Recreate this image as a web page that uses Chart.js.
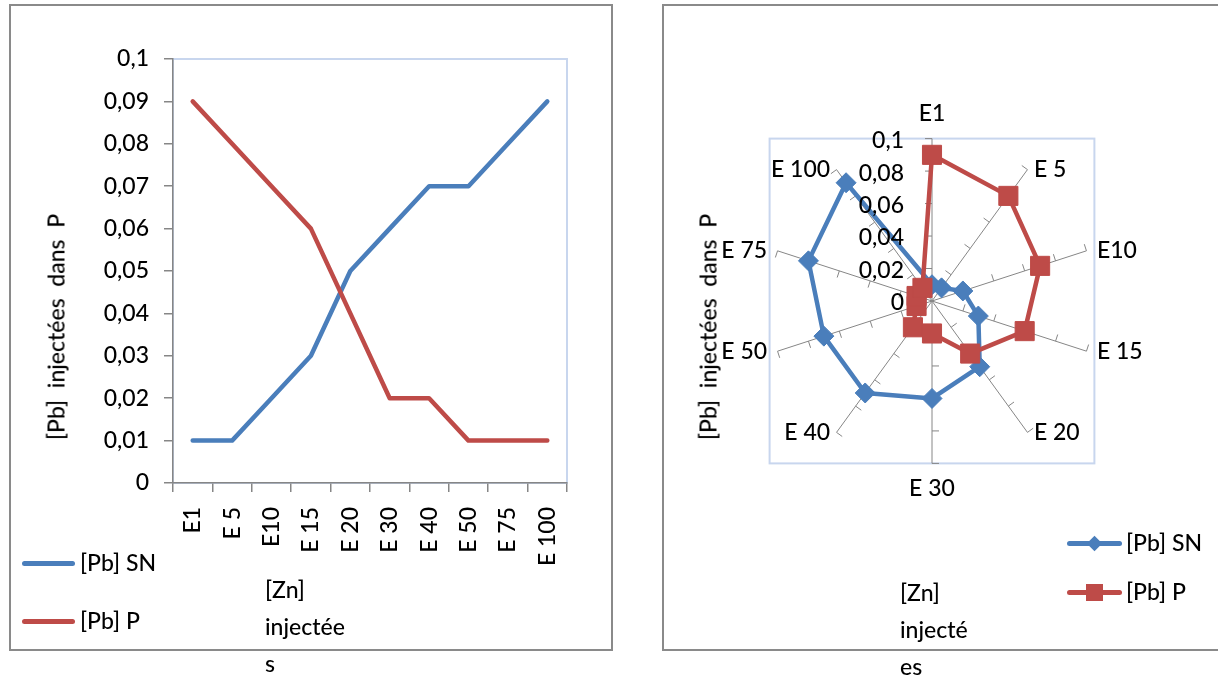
<!DOCTYPE html>
<html><head><meta charset="utf-8">
<script src="https://cdn.jsdelivr.net/npm/chart.js@4.4.0/dist/chart.umd.min.js"></script>
<style>
html,body{margin:0;padding:0;background:#fff;width:1218px;height:676px;overflow:hidden;font-family:Lato,sans-serif;}
.frame{position:absolute;border:2px solid #8a8a8a;box-sizing:border-box;}
canvas{position:absolute;}
.txt{position:absolute;font-size:23px;font-weight:500;color:#000;white-space:pre;line-height:23px;}
.ytitle{transform:translate(-50%,-50%) rotate(-90deg);}
.xtitle{line-height:37px;}
.lg-line{position:absolute;height:5px;border-radius:3px;}
.mk{position:absolute;}
</style></head>
<body>
<div class="frame" style="left:9px;top:4px;width:604px;height:647px"></div>
<div class="frame" style="left:662px;top:4px;width:600px;height:647px"></div>
<canvas id="c1" width="620" height="676" style="left:0;top:0"></canvas>
<canvas id="c2" width="555" height="645" style="left:663px;top:5px"></canvas>

<div class="txt ytitle" style="left:56px;top:327px">[Pb]  injectées  dans  P</div>
<div class="txt xtitle" style="left:265px;top:571px">[Zn]
injectée
s</div>
<div class="lg-line" style="left:22px;top:561px;width:53px;background:#4a7ebb"></div>
<div class="txt" style="left:80px;top:551px">[Pb] SN</div>
<div class="lg-line" style="left:22px;top:619px;width:53px;background:#be4b48"></div>
<div class="txt" style="left:80px;top:609px">[Pb] P</div>

<div class="txt ytitle" style="left:708px;top:327px">[Pb]  injectées  dans  P</div>
<div class="txt xtitle" style="left:900px;top:574px">[Zn]
injecté
es</div>
<div class="lg-line" style="left:1067px;top:541px;width:55px;background:#4a7ebb"></div>
<div class="mk" style="left:1089px;top:538px;width:11px;height:11px;background:#4a7ebb;transform:rotate(45deg)"></div>
<div class="txt" style="left:1126px;top:531px">[Pb] SN</div>
<div class="lg-line" style="left:1067px;top:590px;width:55px;background:#be4b48"></div>
<div class="mk" style="left:1086px;top:584px;width:17px;height:17px;background:#be4b48"></div>
<div class="txt" style="left:1126px;top:580px">[Pb] P</div>

<script>
const categories = ['E1','E 5','E10','E 15','E 20','E 30','E 40','E 50','E 75','E 100'];
const pbSN = [0.01,0.01,0.02,0.03,0.05,0.06,0.07,0.07,0.08,0.09];
const pbP  = [0.09,0.08,0.07,0.06,0.04,0.02,0.02,0.01,0.01,0.01];
const yTickLabels = ['0','0,01','0,02','0,03','0,04','0,05','0,06','0,07','0,08','0,09','0,1'];
const radarTickValues = [0,0.02,0.04,0.06,0.08,0.1];
const radarTickLabels = ['0','0,02','0,04','0,06','0,08','0,1'];

const BLUE = '#4a7ebb', RED = '#be4b48', AXIS = '#868686', BOX = '#c8d6ee';
const FONT_SIZE = 23;
Chart.defaults.font.family = 'Lato';
Chart.defaults.font.size = FONT_SIZE;
Chart.defaults.font.weight = 500;
Chart.defaults.color = '#000';

const plotBox = {
  id: 'plotBox',
  beforeDraw(chart) {
    const a = chart.chartArea, ctx = chart.ctx;
    ctx.save();
    ctx.strokeStyle = BOX; ctx.lineWidth = 2;
    ctx.strokeRect(a.left, a.top, a.right - a.left, a.bottom - a.top);
    ctx.restore();
  }
};

new Chart(document.getElementById('c1'), {
  type: 'line',
  data: {
    labels: categories,
    datasets: [
      {label: '[Pb] SN', data: pbSN, borderColor: BLUE, backgroundColor: BLUE, borderWidth: 4.5,
       pointRadius: 0, tension: 0, borderCapStyle: 'round', borderJoinStyle: 'round', order: 1},
      {label: '[Pb] P', data: pbP, borderColor: RED, backgroundColor: RED, borderWidth: 4.5,
       pointRadius: 0, tension: 0, borderCapStyle: 'round', borderJoinStyle: 'round', order: 0}
    ]
  },
  options: {
    responsive: false, animation: false,
    layout: {padding: {left: 100, top: 59, right: 53, bottom: 100}},
    plugins: {legend: {display: false}, tooltip: {enabled: false}},
    scales: {
      x: {
        type: 'category', offset: true,
        grid: {offset: true, drawOnChartArea: false, drawTicks: true, tickLength: 9, color: AXIS, lineWidth: 1.5},
        border: {display: true, color: AXIS, width: 1.5},
        ticks: {autoSkip: false, maxRotation: 90, minRotation: 90, padding: 15, color: '#000'},
        afterFit(s) { s.height = 93; }
      },
      y: {
        min: 0, max: 0.1,
        grid: {drawOnChartArea: false, drawTicks: true, tickLength: 9, color: AXIS, lineWidth: 1.5},
        border: {display: true, color: AXIS, width: 1.5},
        ticks: {stepSize: 0.01, padding: 15, color: '#000',
                callback: (v) => yTickLabels[Math.round(v * 100)]},
        afterFit(s) { s.width = 73; }
      }
    }
  },
  plugins: [plotBox]
});

const radarDecor = {
  id: 'radarDecor',
  beforeDraw(chart) {
    const s = chart.scales.r, ctx = chart.ctx, R = s.drawingArea;
    ctx.save();
    ctx.strokeStyle = BOX; ctx.lineWidth = 2;
    ctx.strokeRect(s.xCenter - R, s.yCenter - R, 2 * R, 2 * R);
    ctx.restore();
  },
  beforeDatasetsDraw(chart) {
    const s = chart.scales.r, ctx = chart.ctx, R = s.drawingArea;
    ctx.save();
    ctx.strokeStyle = AXIS; ctx.lineWidth = 1;
    for (let i = 0; i < categories.length; i++) {
      const e = s.getPointPosition(i, R);
      const dx = (e.x - s.xCenter) / R, dy = (e.y - s.yCenter) / R;
      radarTickValues.forEach(v => {
        if (v === 0) return;
        const p = s.getPointPositionForValue(i, v);
        ctx.beginPath();
        ctx.moveTo(p.x, p.y);
        ctx.lineTo(p.x + dy * 7, p.y - dx * 7);
        ctx.stroke();
      });
    }
    ctx.restore();
  },
  afterDatasetsDraw(chart) {
    const s = chart.scales.r, ctx = chart.ctx;
    ctx.save();
    ctx.fillStyle = '#000'; ctx.font = '500 ' + FONT_SIZE + 'px Lato';
    ctx.textAlign = 'right'; ctx.textBaseline = 'middle';
    radarTickValues.forEach((v, k) => {
      const p = s.getPointPositionForValue(0, v);
      ctx.fillText(radarTickLabels[k], s.xCenter - 28, p.y + 2);
    });
    ctx.restore();
  }
};

new Chart(document.getElementById('c2'), {
  type: 'radar',
  data: {
    labels: categories,
    datasets: [
      {label: '[Pb] SN', data: pbSN, borderColor: BLUE, backgroundColor: BLUE, borderWidth: 4.5, fill: false,
       pointStyle: 'rectRot', pointRadius: 10, pointBackgroundColor: BLUE, pointBorderColor: BLUE, pointBorderWidth: 1, order: 1},
      {label: '[Pb] P', data: pbP, borderColor: RED, backgroundColor: RED, borderWidth: 4.5, fill: false,
       pointStyle: 'rect', pointRadius: 13.5, pointBackgroundColor: RED, pointBorderColor: RED, pointBorderWidth: 1, order: 0}
    ]
  },
  options: {
    responsive: false, animation: false,
    layout: {padding: {left: 19, top: 96, right: 36, bottom: 147}},
    plugins: {legend: {display: false}, tooltip: {enabled: false}},
    elements: {line: {tension: 0, borderJoinStyle: 'round'}},
    scales: {
      r: {
        min: 0, max: 0.1, beginAtZero: true,
        ticks: {display: false, stepSize: 0.02},
        grid: {display: false},
        angleLines: {display: true, color: AXIS, lineWidth: 1},
        pointLabels: {display: true, font: {family: 'Lato', size: FONT_SIZE, weight: 500}, color: '#000', padding: 11},
        afterFit(s) {
          const items = s._pointLabelItems;
          if (!items) return;
          const lh = FONT_SIZE * 1.2;
          items.forEach((it, i) => {
            if (i === 0 || i === 5) return;
            const p = s.getPointPosition(i, s.drawingArea);
            const h = it.bottom - it.top;
            const ny = p.y - lh / 2;
            it.y = ny; it.top = ny; it.bottom = ny + h;
          });
        }
      }
    }
  },
  plugins: [radarDecor]
});
</script>
</body></html>
